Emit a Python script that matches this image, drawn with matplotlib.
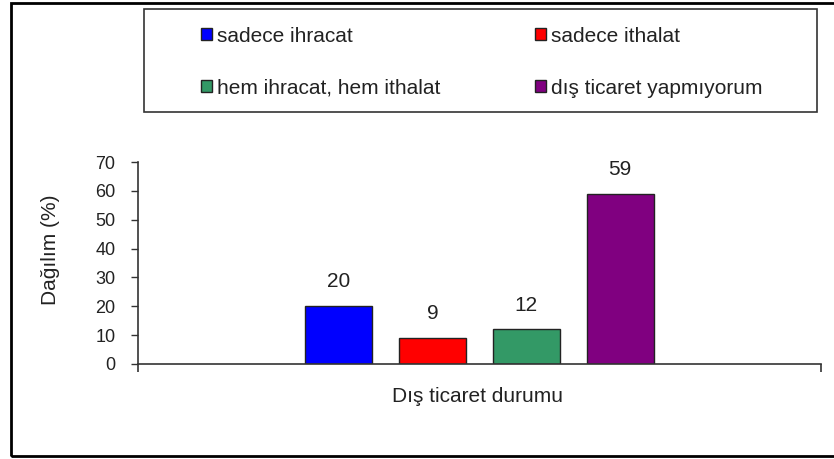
import matplotlib.pyplot as plt
from matplotlib.patches import Rectangle

# Dış ticaret durumu dağılımı (%)
kategoriler = ['sadece ihracat', 'sadece ithalat',
               'hem ihracat, hem ithalat', 'dış ticaret yapmıyorum']
degerler = [20, 9, 12, 59]
renkler = ['#0000FF', '#FF0000', '#339966', '#800080']
y_ticks = [0, 10, 20, 30, 40, 50, 60, 70]

plt.rcParams['font.family'] = ['Liberation Sans', 'DejaVu Sans']
yazi_rengi = '#222222'

W, H = 834, 459
fig = plt.figure(figsize=(W / 100, H / 100), dpi=100)
fig.patch.set_facecolor('white')

# eksen alanı (piksel cinsinden ölçülen yerleşim)
ax = fig.add_axes([137.5 / W, 1 - 364 / H, (821 - 137.5) / W, (364 - 162) / H])

genislik = 0.098
adim = 0.1373
bar_list = []
for i, (kat, deger, renk) in enumerate(zip(kategoriler, degerler, renkler)):
    x = 0.5 + (i - 1.5) * adim
    b = ax.bar(x, deger, width=genislik, color=renk, edgecolor='#222222',
               linewidth=1, label=kat)
    bar_list.append(b)
    ax.annotate(f'{deger}', xy=(x, deger), xytext=(0, 17.5),
                textcoords='offset points', ha='center', va='center',
                fontsize=15, color=yazi_rengi)

ax.set_xlim(0, 1)
ax.set_ylim(0, 70)
ax.set_yticks(y_ticks)
ax.set_xticks([0, 1])
ax.set_xticklabels(['', ''])
ax.tick_params(axis='y', direction='out', length=5, width=1, pad=11,
               labelsize=13, labelcolor=yazi_rengi, color='#333333')
ax.tick_params(axis='x', direction='out', length=6, width=1.2, color='#333333')
for s in ['top', 'right']:
    ax.spines[s].set_visible(False)
for s in ['left', 'bottom']:
    ax.spines[s].set_color('#333333')
    ax.spines[s].set_linewidth(1.2)

fig.text(51 / W, 1 - 250 / H, 'Dağılım (%)', rotation=90, ha='center',
         va='center', fontsize=15, color=yazi_rengi)
fig.text(478 / W, 1 - 396 / H, 'Dış ticaret durumu', ha='center',
         va='center', fontsize=15, color=yazi_rengi)

# lejant çerçevesi
fig.add_artist(Rectangle((144 / W, 1 - 112 / H), (817 - 144) / W, (112 - 9) / H,
                         transform=fig.transFigure, fill=False,
                         edgecolor='#333333', linewidth=1.2))

# lejant girdileri (2 sütun x 2 satır)
konumlar = [(201, 36), (535, 36), (201, 88), (535, 88)]
for b, kat, (px, py) in zip(bar_list, kategoriler, konumlar):
    leg = fig.legend([b], [kat], loc='center left',
                     bbox_to_anchor=(px / W, 1 - py / H), frameon=False,
                     borderpad=0, borderaxespad=0, handlelength=0.55,
                     handleheight=0.55, handletextpad=0.2, fontsize=15)
    for t in leg.get_texts():
        t.set_color(yazi_rengi)

# dış çerçeve
fig.add_artist(Rectangle((11 / W, 1 - 456 / H), 1.0, (456 - 3) / H,
                         transform=fig.transFigure, fill=False,
                         edgecolor='black', linewidth=2, clip_on=False))

fig.savefig('out.png', dpi=100)
